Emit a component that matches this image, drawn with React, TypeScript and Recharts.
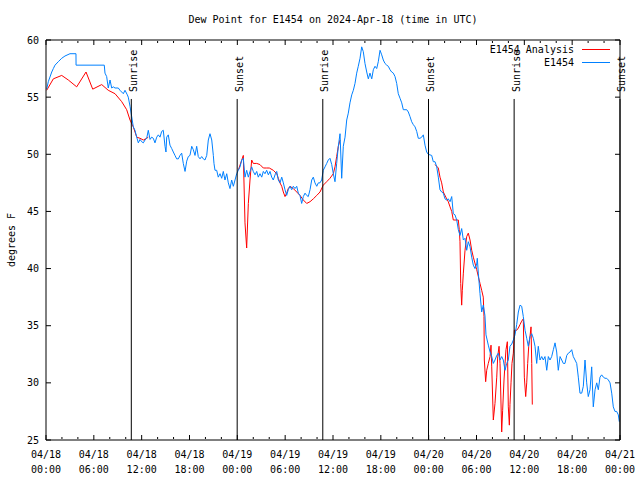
import React from 'react';
import { LineChart, Line, XAxis, YAxis, ReferenceLine } from 'recharts';

const FONT = '"DejaVu Sans Mono", "Liberation Mono", monospace';
const BLUE = '#0080ff';
const RED = '#ff0000';

const titleText = 'Dew Point for E1454 on 2024-Apr-18 (time in UTC)';
const yAxisTitle = 'degrees F';
const analysisName = 'E1454 Analysis';
const obsName = 'E1454';

const xMajorTicks = [0, 6, 12, 18, 24, 30, 36, 42, 48, 54, 60, 66, 72];
const xMinorTicks = [2, 4, 8, 10, 14, 16, 20, 22, 26, 28, 32, 34, 38, 40, 44, 46, 50, 52, 56, 58, 62, 64, 68, 70];
const yTicks = [25, 30, 35, 40, 45, 50, 55, 60];
const dateLabels = ['04/18', '04/19', '04/20', '04/21'];

const sunEvents = [
  { label: 'Sunrise', hour: 10.7 },
  { label: 'Sunset', hour: 23.98 },
  { label: 'Sunrise', hour: 34.72 },
  { label: 'Sunset', hour: 47.98 },
  { label: 'Sunrise', hour: 58.72 },
  { label: 'Sunset', hour: 72 },
];
const sunLineTop = 54.84;

// hours since 2024-04-18 00:00 UTC, dew point (F)
const obsApr18: [number, number][] = [
  [0.09, 55.7], [0.29, 56.35], [0.72, 57.2], [0.92, 57.5], [1.13, 57.8], [1.54, 58.1], [1.97, 58.4], [2.38, 58.6],
  [3.01, 58.8], [3.76, 58.8], [3.77, 57.8], [7.31, 57.8], [7.4, 57.1], [7.61, 56.8], [7.81, 55.8], [8.03, 56.5],
  [8.24, 55.8], [8.44, 55.9], [8.66, 55.8], [9.07, 55.8], [9.28, 55.6], [9.7, 55.3], [9.91, 55.6], [10.2, 55.2],
  [10.32, 55.0], [10.54, 54.2], [10.75, 53.3], [10.95, 52.4], [11.16, 52.1], [11.38, 51.5], [11.58, 51.0],
  [11.79, 51.3], [12.0, 51.1], [12.21, 51.0], [12.42, 51.25], [12.63, 51.4], [12.83, 52.1], [13.05, 51.3],
  [13.26, 51.5], [13.46, 51.4], [13.67, 51.0], [13.89, 51.5], [14.09, 51.7], [14.3, 51.5], [14.51, 52.0],
  [14.71, 52.1], [14.93, 50.7], [15.05, 50.2], [15.14, 51.5], [15.34, 51.7], [15.55, 50.8], [15.77, 50.5],
  [15.97, 50.2], [16.18, 49.9], [16.39, 49.6], [16.6, 49.6], [16.81, 49.9], [17.02, 50.1], [17.22, 49.2],
  [17.44, 48.5], [17.65, 49.4], [17.85, 49.8], [18.06, 49.9], [18.28, 50.7], [18.48, 50.4], [18.69, 49.9],
  [18.9, 50.7], [19.1, 49.8], [19.32, 49.6], [19.53, 49.8], [19.73, 49.6], [19.94, 49.5], [20.16, 49.9],
  [20.36, 51.25], [20.57, 51.8], [20.79, 51.25], [20.99, 49.9], [21.07, 49.2], [21.2, 48.6], [21.41, 48.6],
  [21.61, 48.0], [21.83, 48.3], [22.04, 47.9], [22.24, 48.5], [22.45, 47.75], [22.67, 48.3], [22.87, 47.5],
  [23.08, 47.0], [23.29, 47.75], [23.5, 47.2], [23.71, 47.75], [23.92, 48.3],
];
const obsApr19: [number, number][] = [
  [24.12, 48.6], [24.34, 48.9], [24.55, 49.5], [24.75, 49.65], [24.96, 48.0], [25.17, 48.6], [25.38, 48.0],
  [25.59, 48.5], [25.8, 48.9], [26.0, 48.5], [26.22, 48.2], [26.43, 48.5], [26.63, 48.0], [26.84, 48.3],
  [27.06, 48.0], [27.26, 48.5], [27.47, 48.3], [27.68, 48.6], [27.89, 48.2], [28.1, 48.5], [28.31, 48.0],
  [28.51, 47.75], [28.73, 48.2], [28.94, 48.5], [29.14, 47.75], [29.35, 47.5], [29.57, 48.0], [29.77, 47.5],
  [29.98, 46.9], [30.19, 46.4], [30.39, 46.9], [30.61, 47.2], [30.82, 46.9], [31.02, 47.2], [31.23, 47.0],
  [31.45, 47.2], [31.65, 46.6], [31.86, 46.4], [32.07, 45.7], [32.28, 46.3], [32.49, 46.6], [32.7, 46.4],
  [32.9, 46.3], [33.12, 46.9], [33.33, 47.75], [33.53, 48.0], [33.74, 47.5], [33.96, 47.2], [34.16, 47.5],
  [34.37, 47.5], [34.58, 47.75], [34.78, 48.6], [35.0, 48.9], [35.21, 49.2], [35.41, 49.5], [35.62, 49.65],
  [35.84, 49.1], [36.04, 48.3], [36.25, 47.6], [36.46, 49.2], [36.67, 50.7], [36.88, 51.8], [37.09, 47.9],
  [37.29, 50.7], [37.51, 51.5], [37.72, 53.0], [37.92, 53.6], [38.13, 54.5], [38.35, 55.2], [38.55, 55.6],
  [38.76, 56.2], [38.97, 57.1], [39.17, 57.7], [39.39, 58.4], [39.6, 59.4], [39.8, 58.98], [40.01, 57.95],
  [40.23, 57.2], [40.43, 56.6], [40.64, 57.1], [40.86, 56.6], [41.06, 57.4], [41.27, 57.7], [41.48, 57.5],
  [41.68, 58.1], [41.9, 59.1], [42.11, 58.7], [42.31, 58.25], [42.52, 57.95], [42.74, 57.8], [42.94, 57.7],
  [43.15, 57.4], [43.36, 57.2], [43.57, 57.1], [43.78, 56.8], [43.99, 56.2], [44.19, 55.3], [44.41, 54.9],
  [44.62, 54.5], [44.82, 53.9], [45.25, 53.9], [45.45, 53.7], [45.66, 53.3], [45.87, 52.85], [46.07, 52.6],
  [46.29, 52.4], [46.5, 52.0], [46.7, 51.4], [46.91, 51.4], [47.13, 51.5], [47.33, 51.7], [47.54, 50.8],
  [47.75, 50.2], [47.95, 50.0],
];
const obsApr20: [number, number][] = [
  [48.38, 49.9], [48.58, 49.35], [48.8, 49.35], [49.01, 48.9], [49.21, 48.0], [49.42, 46.9], [49.63, 46.7],
  [49.84, 46.6], [50.05, 46.1], [50.26, 46.0], [50.46, 46.1], [50.68, 45.85], [50.89, 46.3], [51.09, 44.8],
  [51.3, 44.7], [51.52, 44.25], [51.72, 43.4], [51.93, 42.9], [52.14, 43.5], [52.35, 42.5], [52.56, 42.65],
  [52.77, 41.6], [52.97, 42.35], [53.19, 41.9], [53.4, 41.0], [53.6, 40.3], [53.81, 40.0], [54.03, 40.4],
  [54.1, 40.9], [54.23, 39.6], [54.44, 37.8], [54.65, 36.2], [54.85, 36.8], [55.06, 35.9], [55.19, 34.2],
  [55.48, 33.3], [55.7, 32.7], [55.91, 32.3], [56.11, 31.7], [56.32, 32.0], [56.54, 32.4], [56.74, 32.6],
  [56.95, 32.0], [57.16, 32.3], [57.36, 32.0], [57.58, 31.1], [57.79, 31.7], [57.99, 32.0], [58.2, 33.2],
  [58.42, 33.4], [58.62, 33.75], [58.83, 34.2], [59.04, 35.1], [59.25, 36.2], [59.46, 36.8], [59.67, 36.7],
  [59.87, 35.8], [60.09, 34.6], [60.3, 33.9], [60.5, 33.2], [60.71, 34.05], [60.93, 34.3], [61.13, 33.9],
  [61.34, 33.2], [61.55, 31.7], [61.75, 33.2], [61.97, 32.0], [62.18, 32.3], [62.38, 32.0], [62.59, 32.3],
  [62.81, 31.1], [63.01, 32.3], [63.22, 32.0], [63.43, 32.3], [63.64, 32.9], [63.85, 33.5], [64.06, 32.7],
  [64.26, 31.1], [64.48, 32.3], [64.69, 32.0], [64.89, 31.7], [65.1, 31.7], [65.32, 32.4], [65.52, 32.6],
  [65.73, 32.7], [65.94, 32.9], [66.14, 32.3], [66.36, 32.0], [66.57, 31.7], [66.77, 30.5], [66.98, 29.1],
  [67.2, 29.1], [67.4, 29.7], [67.61, 32.0], [67.82, 30.0], [68.02, 28.8], [68.24, 29.4], [68.45, 31.4],
  [68.65, 27.9], [68.87, 29.4], [69.08, 30.0], [69.28, 29.4], [69.49, 30.5], [69.7, 30.7], [69.91, 30.5],
  [70.12, 30.4], [70.33, 30.4], [70.54, 30.25], [70.75, 30.0], [70.96, 29.1], [71.16, 27.9], [71.37, 27.5],
  [71.58, 27.5], [71.79, 27.2], [71.91, 26.6],
];

const analysisApr18: [number, number][] = [
  [0.09, 55.6], [0.92, 56.6], [1.97, 56.9], [2.8, 56.5], [3.85, 55.9], [5.02, 57.2], [5.86, 55.7], [6.99, 56.1],
  [7.81, 55.6], [8.66, 55.3], [9.5, 54.6], [10.12, 53.9], [10.54, 53.0], [10.95, 52.4], [11.38, 51.5],
  [11.79, 51.4], [12.21, 51.25], [12.63, 51.4], [12.83, 51.5],
];
const analysisApr19: [number, number][] = [
  [24.12, 48.6], [24.75, 49.9], [24.96, 44.0], [25.17, 41.8], [25.38, 45.7], [25.59, 47.75], [25.8, 49.5],
  [26.0, 49.2], [26.43, 49.2], [26.84, 49.1], [27.26, 48.8], [27.68, 48.8], [28.01, 48.8], [28.51, 48.6],
  [28.94, 48.3], [29.14, 47.9], [29.35, 47.5], [29.57, 47.2], [29.77, 46.7], [29.98, 46.3], [30.19, 46.6],
  [30.39, 47.0], [30.61, 47.2], [31.02, 47.0], [31.45, 46.7], [31.86, 46.4], [32.28, 46.0], [32.7, 45.7],
  [33.12, 45.85], [33.53, 46.1], [33.96, 46.4], [34.37, 46.7], [34.78, 47.3], [35.21, 47.6], [35.62, 47.9],
  [36.04, 48.3], [36.25, 48.9], [36.46, 49.8], [36.67, 50.7], [36.88, 51.25],
];
const analysisApr20: [number, number][] = [
  [48.8, 49.1], [49.21, 48.8], [49.42, 48.0], [49.63, 47.5], [49.84, 46.7], [50.26, 46.1], [50.46, 45.85],
  [50.68, 45.4], [50.89, 45.0], [51.09, 44.25], [51.72, 44.25], [51.84, 43.4], [51.93, 42.35], [52.02, 38.7],
  [52.14, 36.8], [52.22, 38.1], [52.35, 39.6], [52.56, 41.6], [52.77, 42.8], [52.97, 43.1], [53.19, 42.5],
  [53.4, 41.6], [53.6, 41.0], [54.03, 39.9], [54.23, 39.3], [54.44, 38.7], [54.65, 38.1], [54.85, 37.5],
  [54.94, 35.8], [54.98, 32.0], [55.15, 30.1], [55.28, 31.1], [55.48, 31.7], [55.7, 32.3], [55.82, 33.3],
  [55.91, 31.4], [56.11, 26.75], [56.32, 28.2], [56.54, 30.5], [56.66, 32.3], [56.83, 33.2], [56.95, 31.7],
  [57.16, 25.7], [57.28, 27.6], [57.45, 30.25], [57.58, 31.7], [57.7, 32.9], [57.87, 33.6], [57.99, 27.9],
  [58.12, 26.3], [58.2, 28.1], [58.33, 30.0], [58.45, 31.7], [58.62, 32.6], [58.75, 34.6], [59.04, 34.6],
  [59.25, 34.8], [59.46, 35.1], [59.67, 35.4], [59.87, 35.6], [60.0, 30.5], [60.17, 28.8], [60.3, 30.0],
  [60.42, 31.7], [60.55, 33.2], [60.71, 34.05], [60.84, 34.9], [60.93, 31.7], [61.0, 28.1],
];

const toRows = (pairs: [number, number][]) => pairs.map(([t, v]) => ({ t, v }));
const obsRows = toRows([...obsApr18, ...obsApr19, ...obsApr20]);
const analysisSegments = [analysisApr18, analysisApr19, analysisApr20].map(toRows);

const EmptyTick = () => <g />;

const XTick = (props: any) => {
  const { x, y, payload } = props;
  const h = payload.value as number;
  const day = Math.floor(h / 24);
  const hh = h - day * 24;
  const time = `${String(hh).padStart(2, '0')}:00`;
  return (
    <text x={x} y={y} textAnchor="middle" fontFamily={FONT} fontSize={10} fill="#000">
      <tspan x={x} y={y + 17.5}>{dateLabels[day]}</tspan>
      <tspan x={x} y={y + 33}>{time}</tspan>
    </text>
  );
};

const makeSunLabel = (text: string) => (props: any) => {
  const vb = props.viewBox || {};
  const x = (vb.x ?? 0) + 5.5;
  const y = (vb.y ?? 0) - 7;
  return (
    <text x={x} y={y} transform={`rotate(-90, ${x}, ${y})`} textAnchor="start" fontFamily={FONT} fontSize={10} fill="#000">
      {text}
    </text>
  );
};

const tickStroke = { stroke: '#000', strokeWidth: 1 };

export default function App() {
  return (
    <div style={{ position: 'absolute', left: 0, top: 0, width: 640, height: 480, background: '#fff' }}>
      <LineChart width={640} height={480} margin={{ top: 40, right: 20, bottom: 0, left: 0 }}>
        <XAxis
          dataKey="t"
          type="number"
          domain={[0, 72]}
          ticks={xMajorTicks}
          interval={0}
          allowDataOverflow
          height={40}
          tickLine={false}
          tickSize={0}
          tickMargin={0}
          axisLine={{ stroke: '#000' }}
          tick={<XTick />}
        />
        <XAxis xAxisId="bMaj" dataKey="t" type="number" domain={[0, 72]} ticks={xMajorTicks} interval={0} allowDataOverflow
          orientation="bottom" mirror height={1} axisLine={false} tickSize={5} tickLine={tickStroke} tick={<EmptyTick />} />
        <XAxis xAxisId="bMin" dataKey="t" type="number" domain={[0, 72]} ticks={xMinorTicks} interval={0} allowDataOverflow
          orientation="bottom" mirror height={1} axisLine={false} tickSize={2} tickLine={tickStroke} tick={<EmptyTick />} />
        <XAxis xAxisId="tMaj" dataKey="t" type="number" domain={[0, 72]} ticks={xMajorTicks} interval={0} allowDataOverflow
          orientation="top" mirror height={1} axisLine={{ stroke: '#000' }} tickSize={5} tickLine={tickStroke} tick={<EmptyTick />} />
        <XAxis xAxisId="tMin" dataKey="t" type="number" domain={[0, 72]} ticks={xMinorTicks} interval={0} allowDataOverflow
          orientation="top" mirror height={1} axisLine={false} tickSize={2} tickLine={tickStroke} tick={<EmptyTick />} />
        <YAxis
          type="number"
          domain={[25, 60]}
          ticks={yTicks}
          interval={0}
          allowDataOverflow
          width={46}
          tickLine={false}
          tickSize={0}
          tickMargin={7}
          axisLine={{ stroke: '#000' }}
          tick={{ fill: '#000', fontSize: 10, fontFamily: FONT }}
        />
        <YAxis yAxisId="lMaj" type="number" domain={[25, 60]} ticks={yTicks} interval={0} allowDataOverflow
          orientation="left" mirror width={1} axisLine={false} tickSize={5} tickLine={tickStroke} tick={<EmptyTick />} />
        <YAxis yAxisId="rMaj" type="number" domain={[25, 60]} ticks={yTicks} interval={0} allowDataOverflow
          orientation="right" mirror width={1} axisLine={{ stroke: '#000' }} tickSize={5} tickLine={tickStroke} tick={<EmptyTick />} />

        {analysisSegments.map((seg, i) => (
          <Line key={`a${i}`} data={seg} dataKey="v" type="linear" stroke={RED} strokeWidth={1} dot={false}
            activeDot={false} isAnimationActive={false} name={analysisName} />
        ))}
        <Line data={obsRows} dataKey="v" type="linear" stroke={BLUE} strokeWidth={1} dot={false}
          activeDot={false} isAnimationActive={false} name={obsName} />

        {sunEvents.map((e, i) => (
          <ReferenceLine
            key={`s${i}`}
            segment={[{ x: e.hour, y: 25 }, { x: e.hour, y: sunLineTop }]}
            stroke="#000"
            strokeWidth={1}
            ifOverflow="visible"
            label={makeSunLabel(e.label)}
          />
        ))}
      </LineChart>
      <svg width={640} height={480} style={{ position: 'absolute', left: 0, top: 0, pointerEvents: 'none' }}>
        <text x={333} y={23} textAnchor="middle" fontFamily={FONT} fontSize={10} fill="#000">{titleText}</text>
        <text x={15} y={240} transform="rotate(-90, 15, 240)" textAnchor="middle" fontFamily={FONT} fontSize={10} fill="#000">
          {yAxisTitle}
        </text>
        <text x={574} y={53} textAnchor="end" fontFamily={FONT} fontSize={10} fill="#000">{analysisName}</text>
        <line x1={582} x2={610} y1={49.5} y2={49.5} stroke={RED} strokeWidth={1} />
        <text x={574} y={66} textAnchor="end" fontFamily={FONT} fontSize={10} fill="#000">{obsName}</text>
        <line x1={582} x2={610} y1={62.5} y2={62.5} stroke={BLUE} strokeWidth={1} />
      </svg>
    </div>
  );
}
